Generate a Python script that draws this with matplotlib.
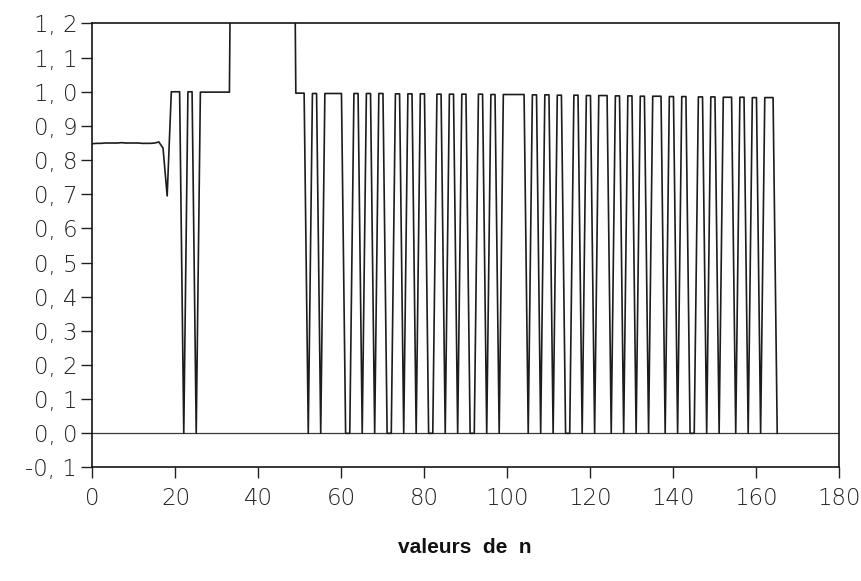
import matplotlib
matplotlib.use("Agg")
import matplotlib.pyplot as plt
from matplotlib.ticker import FixedLocator, FixedFormatter

# sample index n
n = list(range(0, 166))

# computed value for each n (values above 1.2 run off the top of the frame)
valeurs = [
    0.848, 0.849, 0.849, 0.850, 0.850, 0.850, 0.850, 0.851, 0.850, 0.850,   # 0-9
    0.850, 0.850, 0.849, 0.849, 0.849, 0.850, 0.853, 0.835, 0.695, 1.000,   # 10-19
    1.000, 1.000, 0.000, 1.000, 1.000, 0.000, 0.999, 0.999, 0.999, 0.999,   # 20-29
    0.999, 0.999, 0.999, 0.999, 2.500, 2.500, 2.500, 2.500, 2.500, 2.500,   # 30-39
    2.500, 2.500, 2.500, 2.500, 2.500, 2.500, 2.500, 2.500, 2.500, 0.996,   # 40-49
    0.996, 0.996, 0.000, 0.995, 0.995, 0.000, 0.995, 0.995, 0.995, 0.995,   # 50-59
    0.995, 0.000, 0.000, 0.995, 0.995, 0.000, 0.995, 0.995, 0.000, 0.995,   # 60-69
    0.995, 0.000, 0.000, 0.994, 0.994, 0.000, 0.994, 0.994, 0.000, 0.994,   # 70-79
    0.994, 0.000, 0.000, 0.993, 0.993, 0.000, 0.993, 0.993, 0.000, 0.993,   # 80-89
    0.993, 0.000, 0.000, 0.993, 0.993, 0.000, 0.992, 0.992, 0.000, 0.992,   # 90-99
    0.992, 0.992, 0.992, 0.992, 0.992, 0.000, 0.991, 0.991, 0.000, 0.991,   # 100-109
    0.991, 0.000, 0.990, 0.990, 0.000, 0.000, 0.990, 0.990, 0.000, 0.989,   # 110-119
    0.989, 0.000, 0.989, 0.989, 0.989, 0.000, 0.988, 0.988, 0.000, 0.988,   # 120-129
    0.988, 0.000, 0.987, 0.987, 0.000, 0.987, 0.987, 0.987, 0.000, 0.986,   # 130-139
    0.986, 0.000, 0.986, 0.986, 0.000, 0.000, 0.985, 0.985, 0.000, 0.985,   # 140-149
    0.985, 0.000, 0.984, 0.984, 0.984, 0.000, 0.984, 0.984, 0.000, 0.983,   # 150-159
    0.983, 0.000, 0.983, 0.983, 0.983, 0.000,                               # 160-165
]

x_ticks = [0, 20, 40, 60, 80, 100, 120, 140, 160, 180]
x_labels = ["0", "20", "40", "60", "80", "100", "120", "140", "160", "180"]
y_ticks = [1.2, 1.1, 1.0, 0.9, 0.8, 0.7, 0.6, 0.5, 0.4, 0.3, 0.2, 0.1, 0.0, -0.1]
y_labels = ["1, 2", "1, 1", "1, 0", "0, 9", "0, 8", "0, 7", "0, 6", "0, 5",
            "0, 4", "0, 3", "0, 2", "0, 1", "0, 0", "-0, 1"]

fig = plt.figure(figsize=(8.61, 5.81), dpi=100)
ax = fig.add_axes([0.1074, 0.1954, 0.8676, 0.7642])

# zero reference line
ax.axhline(0.0, color="#3a3a3a", lw=0.9, zorder=1)

ax.plot(n, valeurs, color="#1c1c1c", lw=1.2, zorder=2)

ax.set_xlim(0, 180)
ax.set_ylim(-0.1, 1.2)

ax.xaxis.set_major_locator(FixedLocator(x_ticks))
ax.xaxis.set_major_formatter(FixedFormatter(x_labels))
ax.yaxis.set_major_locator(FixedLocator(y_ticks))
ax.yaxis.set_major_formatter(FixedFormatter(y_labels))

for lab in ax.get_xticklabels() + ax.get_yticklabels():
    lab.set_fontfamily(["DejaVu Sans"])
    lab.set_fontweight("light")
    lab.set_fontsize(16.5)
    lab.set_color("#222222")

ax.tick_params(axis="both", direction="out", length=8, width=1.0, color="#222222")
ax.tick_params(axis="y", pad=3)
ax.tick_params(axis="x", pad=6)

for sp in ax.spines.values():
    sp.set_linewidth(1.2)
    sp.set_color("#151515")

fig.text(0.54, 0.057, "valeurs  de  n", ha="center", va="center",
         family=["Liberation Sans", "DejaVu Sans"], fontweight="bold", size=15,
         color="#111111")

fig.savefig("out.png", dpi=100, facecolor="white")
